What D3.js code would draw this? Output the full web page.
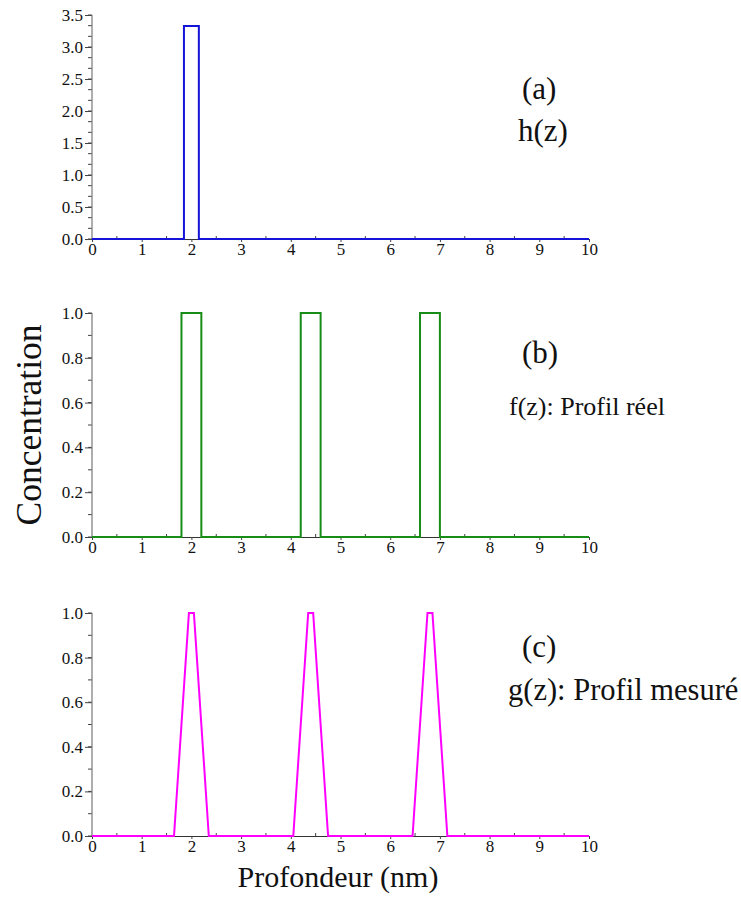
<!DOCTYPE html>
<html><head><meta charset="utf-8">
<script src="https://cdn.jsdelivr.net/npm/d3@7"></script>
<style>body{margin:0;background:#fff}svg{display:block}</style>
</head><body>
<script>
// Depth axis
const xTicks = [0,1,2,3,4,5,6,7,8,9,10];
// (a) h(z): resolution function
const hZ = [0,1.85,1.85,2.15,2.15,10];
const hV = [0,0,3.33,3.33,0,0];
const hTicks = [0,0.5,1.0,1.5,2.0,2.5,3.0,3.5];
// (b) f(z): real profile
const fZ = [0,1.8,1.8,2.2,2.2,4.2,4.2,4.6,4.6,6.6,6.6,7.0,7.0,10];
const fV = [0,0,1,1,0,0,1,1,0,0,1,1,0,0];
// (c) g(z): measured profile
const gZ = [0,1.65,1.95,2.05,2.35,4.05,4.35,4.45,4.75,6.45,6.75,6.85,7.15,10];
const gV = [0,0,1,1,0,0,1,1,0,0,1,1,0,0];
const fgTicks = [0,0.2,0.4,0.6,0.8,1.0];

const W=741,H=897;
const svg=d3.select("body").append("svg").attr("width",W).attr("height",H);
const serif="'Liberation Serif','Times New Roman',serif";
const x=d3.scaleLinear().domain([0,10]).range([92,589]);

function panel(zs,vs,yMax,yTop,yBot,ticks,minorStep,fmt,color,labels){
  const y=d3.scaleLinear().domain([0,yMax]).range([yBot,yTop]);
  const g=svg.append("g");
  // y axis
  const minor=d3.range(0,yMax+1e-9,minorStep);
  g.append("g").selectAll("line").data(minor).join("line")
    .attr("x1",x(0)-4).attr("x2",x(0)).attr("y1",d=>y(d)).attr("y2",d=>y(d))
    .attr("stroke","#444").attr("stroke-width",1);
  const ya=d3.axisLeft(y).tickValues(ticks).tickFormat(d3.format(fmt)).tickSize(7).tickPadding(2);
  const yg=g.append("g").attr("transform",`translate(${x(0)},0)`).call(ya)
    .attr("font-family",null).attr("font-size",null);
  yg.select(".domain").remove();
  yg.selectAll("line").attr("stroke","#444");
  yg.selectAll("text").style("font-family",serif).style("font-size","17px").attr("fill","#111");
  g.append("line").attr("x1",x(0)).attr("x2",x(0)).attr("y1",y(yMax)).attr("y2",yBot)
    .attr("stroke","#777").attr("stroke-width",1.2);
  // x axis
  const xm=d3.range(0.5,10,1);
  g.append("g").selectAll("line").data(xm).join("line")
    .attr("x1",d=>x(d)).attr("x2",d=>x(d)).attr("y1",yBot-3).attr("y2",yBot)
    .attr("stroke","#444");
  const xa=d3.axisBottom(x).tickValues(xTicks).tickFormat(d3.format("d")).tickSize(3).tickPadding(1);
  const xg=g.append("g").attr("transform",`translate(0,${yBot})`).call(xa)
    .attr("font-family",null).attr("font-size",null);
  xg.select(".domain").attr("stroke","#333");
  xg.selectAll("line").attr("stroke","#444");
  xg.selectAll("text").style("font-family",serif).style("font-size","17px").attr("fill","#111");
  // curve
  const pts=zs.map((z,i)=>[z,vs[i]]);
  g.append("path").datum(pts)
    .attr("d",d3.line().x(d=>x(d[0])).y(d=>y(d[1])))
    .attr("fill","none").attr("stroke",color).attr("stroke-width",2);
  // labels
  labels.forEach(l=>{
    g.append("text").attr("x",l[0]).attr("y",l[1]).text(l[2])
      .style("font-family",serif).style("font-size",l[3]+"px").attr("fill","#111");
  });
}

panel(hZ,hV,3.5,15,239,hTicks,0.5/3,".1f","#1414d8",
  [[522,99,"(a)",31],[518,141,"h(z)",31]]);
panel(fZ,fV,1,313,537,fgTicks,0.1,".1f","#178c17",
  [[522,363,"(b)",31],[509,415,"f(z): Profil réel",26]]);
panel(gZ,gV,1,613,836,fgTicks,0.1,".1f","#ff00ff",
  [[522,657,"(c)",31],[508,700,"g(z): Profil mesuré",30.5]]);

svg.append("text").attr("transform","translate(41,425) rotate(-90)")
  .attr("text-anchor","middle").style("font-family",serif).style("font-size","35.5px").attr("fill","#111")
  .text("Concentration");
svg.append("text").attr("x",338).attr("y",887)
  .attr("text-anchor","middle").style("font-family",serif).style("font-size","30px").attr("fill","#111")
  .text("Profondeur (nm)");
</script>
</body></html>
